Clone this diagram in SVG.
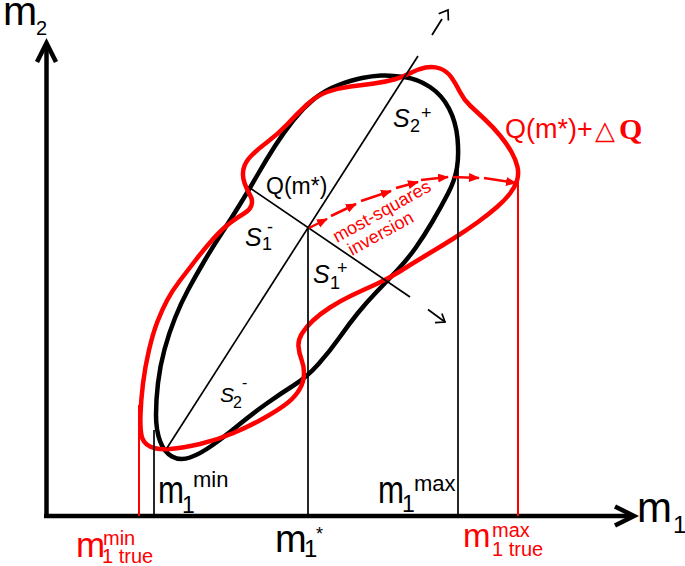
<svg xmlns="http://www.w3.org/2000/svg" width="685" height="566" viewBox="0 0 685 566">
<defs>
<style>
text{font-family:"Liberation Sans",Arial,sans-serif;fill:#000}
.red{fill:#ff0000}
.it{font-style:italic}
.thin{stroke:#000;stroke-width:1.7;fill:none}
.axis{stroke:#000;stroke-width:4.5;fill:none;stroke-linejoin:miter}
.curve{fill:none;stroke-width:4.5;stroke-linejoin:round}
.rarrow{stroke:#ff0000;stroke-width:2.5;fill:none;marker-end:url(#rh)}
.rline{stroke:#ff0000;stroke-width:2;fill:none}
</style>
<marker id="rh" markerUnits="userSpaceOnUse" markerWidth="12" markerHeight="10" refX="10" refY="4.5" orient="auto"><path d="M0,0 L11,4.5 L0,9 Z" fill="#ff0000"/></marker>
</defs>
<rect width="685" height="566" fill="#fff"/>

<g id="axes">
<line class="axis" x1="46.5" y1="518" x2="46.5" y2="46"/>
<polyline class="axis" points="37,62 46.5,43 56,62"/>
<line class="axis" x1="44" y1="516" x2="631" y2="516"/>
<polyline class="axis" points="615,506.5 634,516 615,525.5"/>
</g>

<g id="black-region">
<path class="curve" stroke="#000" d="M 381,75.5 Q 390,75 404,77 Q 418,79 430,87 Q 442,95 449,108.5 Q 456,122 457.5,138.5 Q 459,155 457,167.5 Q 455,180 448,193.5 Q 441,207 432.5,221.5 Q 424,236 415.5,248 Q 407,260 396.5,271 Q 386,282 376,292.5 Q 366,303 357.5,313.5 Q 349,324 339.5,337.5 Q 330,351 318.5,364 Q 307,377 293.5,385.5 Q 280,394 266,404 Q 252,414 238,425.5 Q 224,437 212,445.5 Q 200,454 190,457.5 Q 180,461 172,456.5 Q 164,452 160,441 Q 156,430 156,415 Q 156,400 158,383 Q 160,366 164.5,349.5 Q 169,333 175,318 Q 181,303 188,290 Q 195,277 203.5,262.5 Q 212,248 221.5,233.5 Q 231,219 240.5,203.5 Q 250,188 258,174 Q 266,160 275,146 Q 284,132 293.5,120 Q 303,108 314,99 Q 325,90 338.5,85 Q 352,80 362,78 Q 372,76 381,75.5 Z"/>
</g>

<g id="red-region">
<path class="curve" stroke="#ff0000" d="M 394,79.5 Q 403,77 410.5,73 Q 418,69 425.5,67.5 Q 433,66 440,68.5 Q 447,71 451.5,77.5 Q 456,84 460,92 Q 464,100 470.5,106 Q 477,112 485,119.5 Q 493,127 500,135.5 Q 507,144 511.5,152 Q 516,160 517.5,167 Q 519,174 517,180.5 Q 515,187 510,193.5 Q 505,200 497,207 Q 489,214 478,222 Q 467,230 453.5,238.5 Q 440,247 426.5,255 Q 413,263 400.5,271 Q 388,279 375.5,284.5 Q 363,290 351.5,295.5 Q 340,301 330,307.5 Q 320,314 313,320.5 Q 306,327 302,333.5 Q 298,340 298.5,346.5 Q 299,353 301.5,359.5 Q 304,366 304,373.5 Q 304,381 300,388.5 Q 296,396 288,402.5 Q 280,409 265,417.5 Q 250,426 233.5,433 Q 217,440 200,444 Q 183,448 170,449 Q 157,450 150,446.5 Q 143,443 141.5,435.5 Q 140,428 140.5,414 Q 141,400 143,383.5 Q 145,367 149,350 Q 153,333 157.5,321.5 Q 162,310 167,300.5 Q 172,291 180,280.5 Q 188,270 196.5,259 Q 205,248 213.5,238.5 Q 222,229 230,223 Q 238,217 244,213.5 Q 250,210 251.5,205 Q 253,200 250,195 Q 247,190 244.5,183 Q 242,176 243.5,169 Q 245,162 251.5,155.5 Q 258,149 268,141.5 Q 278,134 287.5,124 Q 297,114 306.5,105 Q 316,96 327,92 Q 338,88 350.5,86.5 Q 363,85 374,83.5 Q 385,82 394,79.5 Z"/>
</g>

<g id="connectors">
<line class="thin" x1="167" y1="448" x2="418" y2="56"/>
<line class="thin" x1="432" y1="35" x2="442" y2="19"/>
<polyline class="thin" points="438.7,13.8 448,10 448.4,20.5"/>
<line class="thin" x1="250" y1="188" x2="410" y2="297"/>
<line class="thin" x1="428" y1="309.5" x2="445" y2="322"/>
<polyline class="thin" points="441.9,313.5 445,322 435,322.7"/>
<line class="thin" x1="154" y1="430" x2="154" y2="516"/>
<line class="thin" x1="308" y1="228" x2="308" y2="516"/>
<line class="thin" x1="458" y1="140" x2="458" y2="516"/>
<line class="rline" x1="139" y1="405" x2="139" y2="516"/>
<line class="rline" x1="518" y1="182" x2="518" y2="516"/>
<line class="rarrow" x1="309" y1="228" x2="327" y2="219"/>
<line class="rarrow" x1="331" y1="216" x2="356" y2="204"/>
<line class="rarrow" x1="361" y1="201" x2="391" y2="191"/>
<line class="rarrow" x1="396" y1="188" x2="418" y2="182"/>
<line class="rarrow" x1="421" y1="180" x2="448" y2="177"/>
<line class="rarrow" x1="453" y1="177" x2="479" y2="178"/>
<line class="rarrow" x1="484" y1="178" x2="516" y2="183"/>
</g>

<g id="labels">
<text x="3" y="25" font-size="41">m</text>
<text x="36" y="35" font-size="20">2</text>
<text x="637" y="522" font-size="42">m</text>
<text x="673" y="533" font-size="24">1</text>

<text x="266" y="194" font-size="23">Q(m*)</text>
<text x="393" y="127" font-size="25" class="it">S</text><text x="410" y="132" font-size="18">2</text><text x="421" y="119" font-size="18">+</text>
<text x="245" y="246" font-size="25" class="it">S</text><text x="262" y="250" font-size="18">1</text><text x="267" y="233" font-size="18">-</text>
<text x="313" y="283" font-size="25" class="it">S</text><text x="330" y="289" font-size="18">1</text><text x="337" y="274" font-size="18">+</text>
<text x="220" y="402" font-size="21" class="it">S</text><text x="233" y="408" font-size="16">2</text><text x="242" y="388" font-size="16">-</text>

<text x="337" y="243" font-size="18" class="red" transform="rotate(-29 337 243)">most-squares</text>
<text x="352" y="256" font-size="18" class="red" transform="rotate(-29 352 256)">inversion</text>

<text x="505" y="138" font-size="27" class="red">Q(m*)+</text>
<text x="595" y="139" font-size="26" class="red" style="font-family:'DejaVu Sans',sans-serif">△</text>
<text x="619" y="139" font-size="30" class="red" style="font-family:'Liberation Serif','Times New Roman',serif;font-weight:bold">Q</text>

<text x="158" y="503" font-size="38" textLength="26" lengthAdjust="spacingAndGlyphs">m</text>
<text x="182" y="513" font-size="23">1</text>
<text x="193" y="487" font-size="22">min</text>

<text x="378" y="503" font-size="38" textLength="26" lengthAdjust="spacingAndGlyphs">m</text>
<text x="402" y="512" font-size="23">1</text>
<text x="414" y="491" font-size="22">max</text>

<text x="275" y="552" font-size="38">m</text>
<text x="304" y="557" font-size="24">1</text>
<text x="316" y="540" font-size="18">*</text>

<text x="76" y="557" font-size="35" class="red">m</text>
<text x="103" y="545" font-size="20" class="red">min</text>
<text x="102" y="563" font-size="20" class="red">1 true</text>

<text x="463" y="547" font-size="33" class="red">m</text>
<text x="492" y="537" font-size="20" class="red">max</text>
<text x="492" y="556" font-size="20" class="red">1 true</text>
</g>
</svg>
